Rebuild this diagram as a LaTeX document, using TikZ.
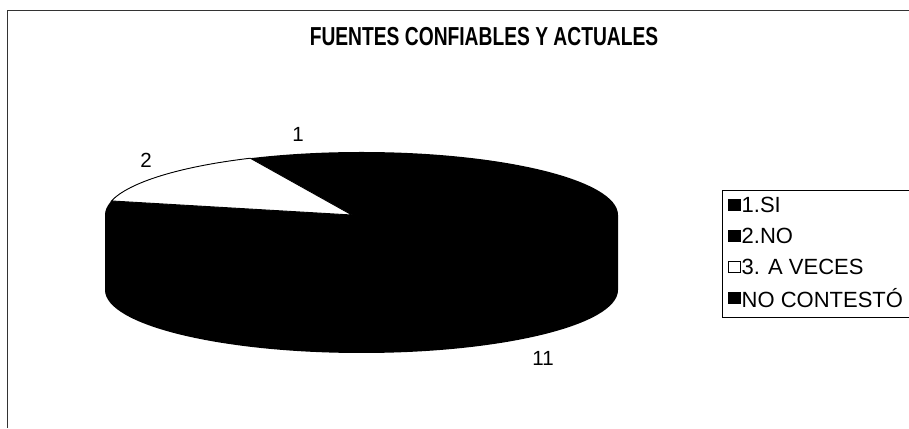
\documentclass[tikz,border=0pt]{standalone}
\usepackage{fontspec}
\setmainfont{Liberation Sans}
\begin{document}
\begin{tikzpicture}[x=1pt,y=1pt,
  lbl/.style={inner sep=0pt, font=\fontsize{20.5}{22}\selectfont},
  legtxt/.style={inner sep=0pt, anchor=west, font=\fontsize{22}{24}\selectfont},
  legsq/.style={draw=black, line width=0.6pt, minimum size=11.5pt, inner sep=0pt}]
\useasboundingbox (0,0) rectangle (909,428);
\clip (0,0) rectangle (909,428);
% frame
\draw[line width=0.8pt, black!80] (7,0) -- (7,418) -- (915,418);
% title
\node[inner sep=0pt, font=\bfseries\fontsize{26}{28}\selectfont] (title) at (484,391) {\scalebox{0.74}[1]{FUENTES CONFIABLES Y ACTUALES}};
% pie body
\coordinate (ctop) at (361.5,213);
\coordinate (cbot) at (361.5,138);
\fill[black] (105,213) -- (105,138) arc[start angle=180,end angle=360,x radius=256.5pt,y radius=63pt] -- (618,213) arc[start angle=0,end angle=180,x radius=256.5pt,y radius=63pt] -- cycle;
% white slice (3. A VECES)
\coordinate (wv) at (352,213);
\filldraw[fill=white, draw=black, line width=0.9pt] (wv) -- ([shift={(167.1:256.5pt and 63pt)}]ctop) arc[start angle=167.1,end angle=115.7,x radius=256.5pt,y radius=63pt] -- cycle;
% data labels
\node[lbl] (l1) at (298,294) {1};
\node[lbl] (l2) at (146,268) {2};
\node[lbl] (l11) at (543,70) {11};
% legend
\draw[line width=0.8pt] (722,238) rectangle (930,111);
\node[legsq, fill=black] (s1) at (734.5,223) {};
\node[legsq, fill=black] (s2) at (734.5,192) {};
\node[legsq, fill=white] (s3) at (734.5,161) {};
\node[legsq, fill=black] (s4) at (734.5,130) {};
\node[legtxt] (t1) at (741.5,223) {1.SI};
\node[legtxt] (t2) at (741.5,192) {2.NO};
\node[legtxt] (t3) at (741.5,161) {3. A VECES};
\node[legtxt] (t4) at (741.5,130) {NO CONTESTÓ};
\end{tikzpicture}
\end{document}
